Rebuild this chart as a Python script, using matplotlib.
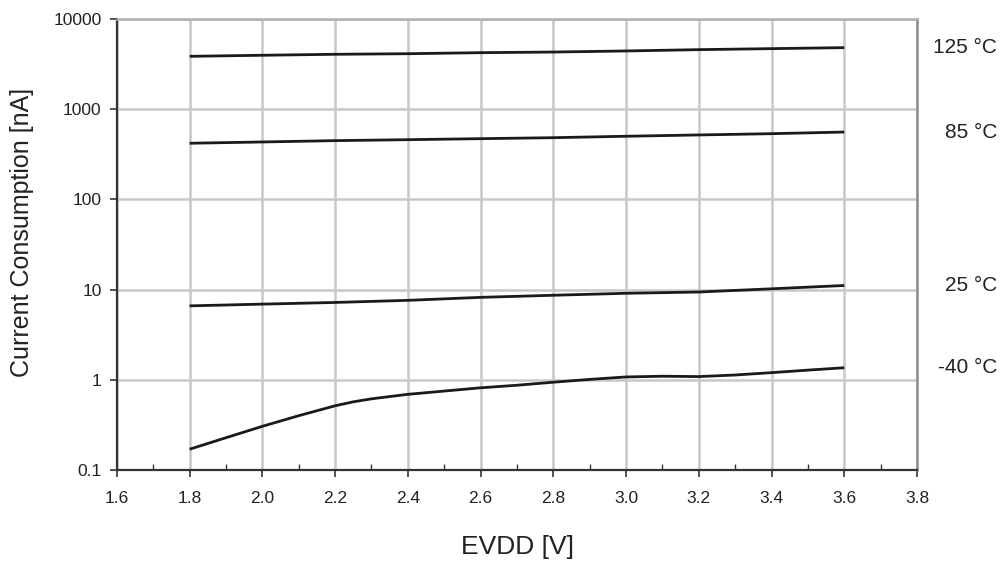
#!/usr/bin/env python3
"""Current consumption vs EVDD at four temperatures (log scale)."""

import matplotlib
matplotlib.use("Agg")
import matplotlib.pyplot as plt
import matplotlib.transforms as mtransforms
from matplotlib.ticker import FixedLocator, MultipleLocator, NullFormatter

plt.rcParams["font.family"] = ["Liberation Sans", "DejaVu Sans"]

# Supply voltage samples [V]
evdd = [1.8, 2.0, 2.2, 2.4, 2.6, 2.8, 3.0, 3.2, 3.4, 3.6]
evdd_fine = [1.8, 1.9, 2.0, 2.1, 2.2, 2.25, 2.3, 2.4, 2.5, 2.6, 2.7,
             2.8, 2.9, 3.0, 3.1, 3.2, 3.3, 3.4, 3.5, 3.6]

# Current consumption [nA]
i_125 = [3855, 3960, 4060, 4120, 4230, 4300, 4420, 4570, 4690, 4810]
i_85 = [419, 433, 448, 459, 471, 483, 501, 518, 535, 558]
i_25 = [6.6, 6.9, 7.2, 7.6, 8.2, 8.65, 9.1, 9.4, 10.2, 11.1]
i_m40 = [0.17, 0.228, 0.305, 0.40, 0.515, 0.57, 0.615, 0.69, 0.75, 0.815, 0.87,
         0.94, 1.01, 1.075, 1.095, 1.085, 1.13, 1.20, 1.28, 1.36]

temp_labels = ["125 \u00b0C", "85 \u00b0C", "25 \u00b0C", "-40 \u00b0C"]
y_ticks = [0.1, 1, 10, 100, 1000, 10000]
y_tick_labels = ["0.1", "1", "10", "100", "1000", "10000"]
x_ticks = [1.6, 1.8, 2.0, 2.2, 2.4, 2.6, 2.8, 3.0, 3.2, 3.4, 3.6, 3.8]

fig = plt.figure(figsize=(10.08, 5.63), dpi=100)
ax = fig.add_axes([0.116, 0.1652, 0.7937, 0.8011])

line_color = "#1a1a1a"
grid_color = "#c8c8c8"

series = [(evdd, i_125), (evdd, i_85), (evdd, i_25), (evdd_fine, i_m40)]
for xs, ys in series:
    ax.plot(xs, ys, color=line_color, linewidth=2.0, solid_capstyle="butt",
            solid_joinstyle="round", zorder=3)

ax.set_yscale("log")
ax.set_xlim(1.6, 3.8)
ax.set_ylim(0.1, 10000)

ax.set_yticks(y_ticks)
ax.set_yticklabels(y_tick_labels)
ax.yaxis.set_minor_formatter(NullFormatter())
ax.yaxis.set_minor_locator(FixedLocator([]))
ax.set_xticks(x_ticks)
ax.set_xticklabels([f"{v:.1f}" for v in x_ticks])
ax.xaxis.set_minor_locator(MultipleLocator(0.1))

ax.grid(True, which="major", color=grid_color, linewidth=1.8, zorder=1)
ax.set_axisbelow(True)

ax.tick_params(axis="both", which="major", labelsize=12.5, color="#333333",
               labelcolor="#222222", direction="out", length=5, width=1.2, pad=6)
ax.tick_params(axis="x", which="major", pad=10)
ax.tick_params(axis="x", which="minor", direction="in", length=4,
               width=1.0, color="#333333")

for side in ("left", "bottom"):
    ax.spines[side].set_color("#333333")
    ax.spines[side].set_linewidth(1.6)
ax.spines["top"].set_color("#b0b0b0")
ax.spines["top"].set_linewidth(1.8)
ax.spines["right"].set_color("#8c8c8c")
ax.spines["right"].set_linewidth(1.8)

# Temperature labels on the right, level with the line ends
trans = mtransforms.blended_transform_factory(ax.transAxes, ax.transData)
for label, (xs, ys) in zip(temp_labels, series):
    ax.text(1.1, ys[-1], label, transform=trans, ha="right", va="center",
            fontsize=15, color="#222222", clip_on=False)

fig.text(0.513, 0.028, "EVDD [V]", ha="center", va="center",
         fontsize=19, color="#222222")
fig.text(0.022, 0.588, "Current Consumption [nA]", ha="center", va="center",
         rotation=90, fontsize=18, color="#222222")

fig.savefig("out.png", dpi=100)
